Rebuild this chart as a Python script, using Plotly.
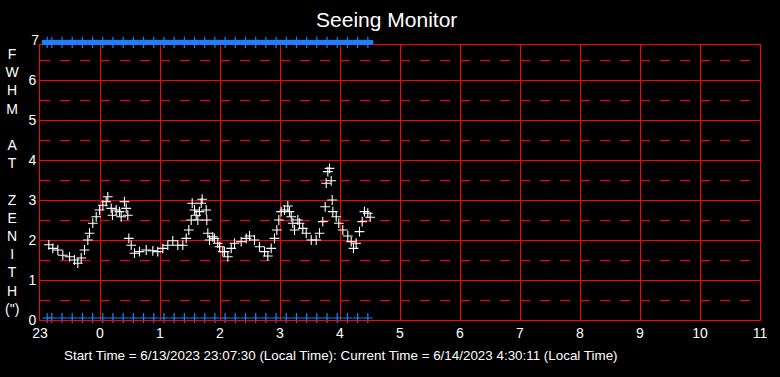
import plotly.graph_objects as go

# hours elapsed since 23:00 local time
fwhm_time = [0.147, 0.213, 0.297, 0.380, 0.492, 0.575, 0.630, 0.687, 0.742, 0.797,
             0.825, 0.880, 0.937, 0.992, 1.047, 1.103, 1.130, 1.187, 1.208, 1.270,
             1.325, 1.353, 1.408, 1.437, 1.463, 1.480, 1.520, 1.575, 1.658, 1.770,
             1.880, 1.963, 2.047, 2.130, 2.213, 2.297, 2.380, 2.437, 2.480, 2.520,
             2.537, 2.575, 2.603, 2.630, 2.658, 2.703, 2.687, 2.770, 2.780, 2.797,
             2.825, 2.880, 2.908, 2.963, 2.992, 3.047, 3.075, 3.130, 3.187, 3.242,
             3.353, 3.437, 3.492, 3.575, 3.658, 3.742, 3.797, 3.853, 3.908, 3.947,
             3.980, 4.020, 4.075, 4.130, 4.158, 4.187, 4.213, 4.242, 4.297, 4.325,
             4.380, 4.437, 4.520, 4.603, 4.658, 4.713, 4.753, 4.770, 4.797, 4.825,
             4.853, 4.870, 4.880, 4.937, 4.980, 5.047, 5.130, 5.187, 5.225, 5.270,
             5.325, 5.370, 5.408, 5.463, 5.503]
fwhm_value = [1.88, 1.79, 1.75, 1.62, 1.58, 1.50, 1.42, 1.55, 1.75, 2.00,
              2.17, 2.42, 2.58, 2.75, 2.87, 2.96, 3.08, 2.79, 2.62, 2.75,
              2.71, 2.58, 2.96, 2.79, 2.62, 2.04, 1.87, 1.67, 1.71, 1.75,
              1.73, 1.71, 1.79, 1.87, 1.98, 1.87, 1.87, 2.04, 2.25, 2.50,
              2.92, 2.75, 2.62, 2.50, 2.71, 3.02, 2.92, 2.75, 2.50, 2.17,
              2.00, 2.08, 2.04, 1.92, 1.83, 1.71, 1.71, 1.58, 1.79, 1.92,
              1.96, 2.04, 2.10, 2.00, 1.83, 1.71, 1.60, 1.79, 2.04, 2.25,
              2.50, 2.71, 2.75, 2.85, 2.71, 2.58, 2.42, 2.25, 2.50, 2.42,
              2.29, 2.17, 2.00, 2.00, 2.17, 2.46, 2.83, 3.42, 3.71, 3.79,
              3.48, 3.00, 2.71, 2.58, 2.42, 2.25, 2.10, 1.96, 1.79, 1.92,
              2.21, 2.46, 2.71, 2.67, 2.57]

status_time = [0.120, 0.197, 0.367, 0.537, 0.707, 0.877, 1.046, 1.216, 1.386, 1.556,
               1.726, 1.896, 2.066, 2.236, 2.406, 2.576, 2.745, 2.915, 3.085, 3.255,
               3.425, 3.595, 3.765, 3.935, 4.105, 4.275, 4.445, 4.614, 4.784, 4.954,
               5.124, 5.294, 5.464]
status_top = [6.94] * len(status_time)
status_bottom = [0.05] * len(status_time)

hour_ticks = list(range(13))
hour_labels = ["23", "0", "1", "2", "3", "4", "5", "6", "7", "8", "9", "10", "11"]
fwhm_ticks = [0, 1, 2, 3, 4, 5, 6]
fwhm_top_tick = 7

title_text = "Seeing Monitor"
footer_text = ("Start Time = 6/13/2023 23:07:30 (Local Time): "
               "Current Time = 6/14/2023 4:30:11 (Local Time)")
ylabel_letters = ["F", "W", "H", "M", " ", "A", "T", " ", "Z", "E", "N", "I", "T", "H", "(\")"]

FONT = "Liberation Sans, Arial, sans-serif"
BLUE = "#1e80ff"
RED = "#ff0000"

W, H = 780, 377
L, T, B = 40, 40, 57           # outer box (incl. row up to value 7)
PW, PH = 720, 280              # 12 h * 60 px, 7 * 40 px
FRAME_FRAC = 275 / 280         # framed plot area reaches 6.875

fig = go.Figure()

# top status band (on full-height helper axes)
fig.add_trace(go.Scatter(
    x=status_time, y=status_top, mode="markers", xaxis="x2", yaxis="y2", cliponaxis=False,
    marker=dict(symbol="line-ew", size=7.5, line=dict(color=BLUE, width=5)),
    hoverinfo="skip", showlegend=False))
fig.add_trace(go.Scatter(
    x=status_time, y=status_top, mode="markers", xaxis="x2", yaxis="y2", cliponaxis=False,
    marker=dict(symbol="cross-thin", size=8, line=dict(color=BLUE, width=1.2)),
    hoverinfo="skip", showlegend=False))
fig.add_trace(go.Scatter(
    x=status_time, y=status_bottom, mode="markers", cliponaxis=False,
    marker=dict(symbol="cross-thin", size=7, line=dict(color=BLUE, width=1.2)),
    showlegend=False))
fig.add_trace(go.Scatter(
    x=fwhm_time, y=fwhm_value, mode="markers",
    marker=dict(symbol="cross-thin", size=7, line=dict(color="white", width=1.1)),
    showlegend=False))

axfont = dict(size=14, color="white", family=FONT)

fig.update_layout(
    width=W, height=H,
    paper_bgcolor="black", plot_bgcolor="rgba(0,0,0,0)",
    margin=dict(l=L, r=W - L - PW, t=T, b=B),
    font=dict(family=FONT, color="white", size=14),
    title=dict(text=title_text, x=386.7 / W, xref="container", xanchor="center",
               y=1 - 20 / H, yref="container", yanchor="middle",
               font=dict(size=21, color="white", family=FONT)),
    xaxis=dict(range=[0, 12], tickmode="array", tickvals=hour_ticks, ticktext=hour_labels,
               showgrid=True, gridcolor=RED, gridwidth=1, zeroline=False,
               showline=True, linecolor=RED, linewidth=1, mirror=True, ticks="",
               tickfont=axfont, anchor="y"),
    yaxis=dict(range=[0, 6.875], domain=[0, FRAME_FRAC], tickmode="array", tickvals=fwhm_ticks,
               showgrid=True, gridcolor=RED, gridwidth=1, zeroline=False,
               showline=True, linecolor=RED, linewidth=1, mirror=True, ticks="",
               tickfont=axfont, anchor="x",
               minor=dict(dtick=0.5, tick0=0, showgrid=True, gridcolor=RED,
                          gridwidth=1, griddash="10px,10px", ticks="")),
    xaxis2=dict(range=[0, 12], domain=[0, 1], visible=False, anchor="y2", fixedrange=True),
    yaxis2=dict(range=[0, 7], domain=[0, 1], anchor="x2", fixedrange=True,
                tickmode="array", tickvals=[fwhm_top_tick], showgrid=False, zeroline=False,
                showline=False, ticks="", tickfont=axfont),
    annotations=[
        dict(text="<br>".join(ylabel_letters), x=(12 - L) / PW, xref="paper",
             xanchor="center", y=(320 - 181.5) / PH, yref="paper", yanchor="middle",
             showarrow=False, align="center", font=axfont),
        dict(text=footer_text, x=(341 - L) / PW, xref="paper", xanchor="center",
             y=(320 - 355) / PH, yref="paper", yanchor="middle", showarrow=False,
             font=dict(size=13.4, color="white", family=FONT)),
    ],
)

fig.write_html("out.html", config={"displayModeBar": False},
               post_script="document.body.style.margin='0';")
